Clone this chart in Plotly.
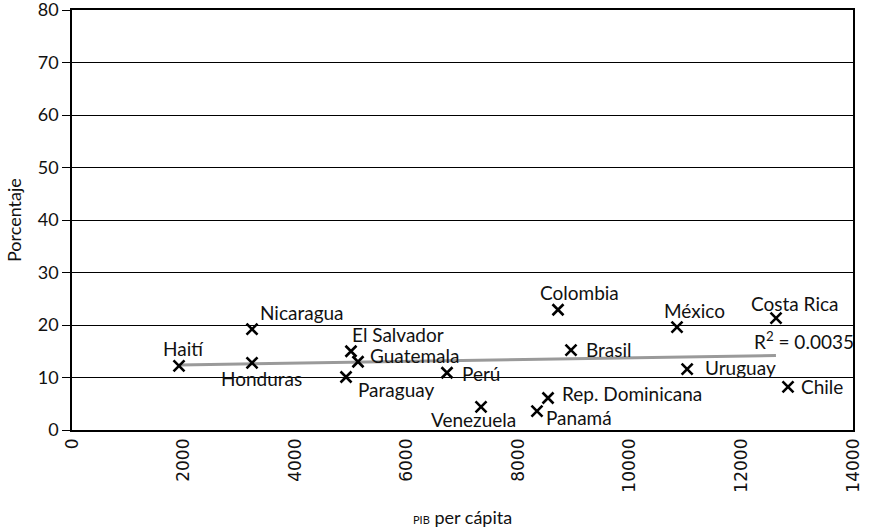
import plotly.graph_objects as go

# PIB per cápita vs porcentaje
paises = ['Haití', 'Nicaragua', 'Honduras', 'El Salvador', 'Guatemala', 'Paraguay',
          'Perú', 'Venezuela', 'Colombia', 'Brasil', 'Rep. Dominicana', 'Panamá',
          'México', 'Costa Rica', 'Uruguay', 'Chile']
pib = [1918, 3227, 3227, 5001, 5127, 4912,
       6722, 7332, 8712, 8945, 8533, 8335,
       10845, 12620, 11027, 12835]
porcentaje = [12.2, 19.2, 12.8, 15.0, 13.0, 10.1,
              10.9, 4.4, 22.9, 15.2, 6.1, 3.6,
              19.6, 21.3, 11.6, 8.2]

# línea de tendencia (extremos)
tend_x = [1918, 12619]
tend_y = [12.4, 14.2]
r2_texto = 'R<sup>2</sup> = 0.0035'

ticks_x = [0, 2000, 4000, 6000, 8000, 10000, 12000, 14000]

# desplazamiento de cada etiqueta respecto a su punto (px: derecha, abajo)
desplaz = [(4, -17), (50, -17), (9, 16), (47, -17), (56, -6), (50, 13),
           (34, 1), (-8, 13), (21, -17), (38, -1), (84, -4), (42, 6),
           (17, -17), (18, -15), (53, -2), (34, 0)]

fuente = 'Lato, Open Sans, sans-serif'

fig = go.Figure()
fig.add_trace(go.Scatter(
    x=tend_x, y=tend_y, mode='lines',
    line=dict(color='#9a9a9a', width=3),
    hoverinfo='skip', showlegend=False))
fig.add_trace(go.Scatter(
    x=pib, y=porcentaje, mode='markers', text=paises,
    marker=dict(symbol='x-thin', size=11, line=dict(color='black', width=2.6)),
    showlegend=False))

for p, xv, yv, (dx, dy) in zip(paises, pib, porcentaje, desplaz):
    fig.add_annotation(x=xv, y=yv, text=p, showarrow=False,
                       xanchor='center', yanchor='middle', xshift=dx, yshift=-dy,
                       font=dict(family=fuente, size=19, color='#111'))

fig.add_annotation(x=12190, y=17.1, xref='x', yref='y', text=r2_texto,
                   xanchor='left', showarrow=False,
                   font=dict(family=fuente, size=19, color='#111'))

# títulos de ejes
fig.add_annotation(x=0.5, y=-0.207, xref='paper', yref='paper',
                   text="<span style='font-size:11px'>PIB</span> per cápita",
                   showarrow=False, xanchor='center', yanchor='middle',
                   font=dict(family=fuente, size=18, color='#111'))
fig.add_annotation(x=-0.0743, y=0.5, xref='paper', yref='paper',
                   text='Porcentaje', textangle=-90,
                   showarrow=False, xanchor='center', yanchor='middle',
                   font=dict(family=fuente, size=18, color='#111'))

fig.update_layout(
    width=869, height=531,
    margin=dict(l=72, r=16, t=10, b=101),
    plot_bgcolor='white', paper_bgcolor='white',
    font=dict(family=fuente, color='#111'),
)
fig.update_xaxes(
    range=[0, 14000], tickvals=ticks_x, ticktext=[str(v) for v in ticks_x],
    tickangle=-90, tickfont=dict(family='DejaVu Sans', size=17, color='#111'),
    showgrid=False, zeroline=False, automargin=False, ticklabeloverflow='allow',
    showline=True, linecolor='black', linewidth=1.5, mirror=True,
)
fig.update_yaxes(
    range=[0, 80], dtick=10, automargin=False, ticklabeloverflow='allow',
    tickfont=dict(family=fuente, size=18, color='#111'),
    showgrid=True, gridcolor='black', gridwidth=1.3, zeroline=False,
    showline=True, linecolor='black', linewidth=1.5, mirror=True,
    ticks='outside', ticklen=8, tickcolor='black', tickwidth=1.3,
)

fig.write_html("out.html", config={'displayModeBar': False},
               post_script="document.body.style.margin='0';")
